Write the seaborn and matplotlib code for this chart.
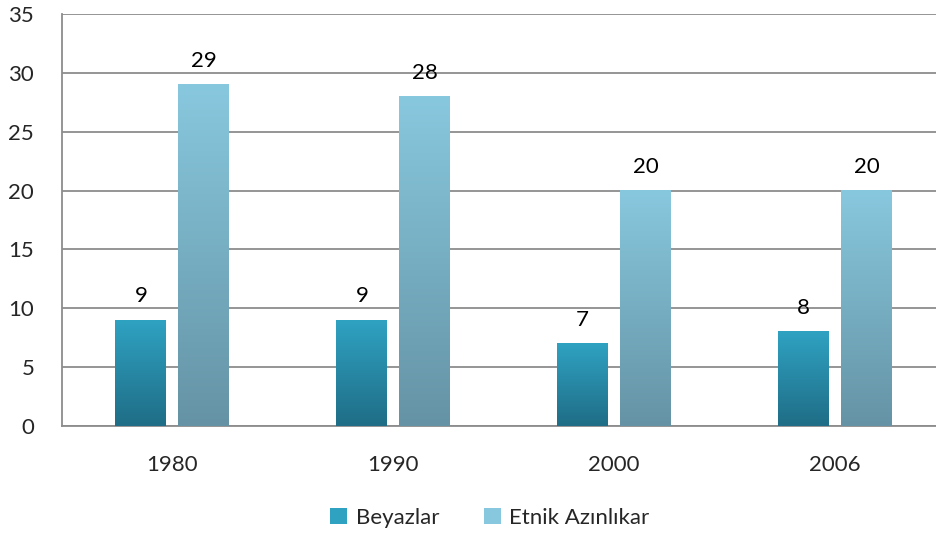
import numpy as np
import pandas as pd
import matplotlib
matplotlib.use("Agg")
import matplotlib.pyplot as plt
import seaborn as sns
from matplotlib.colors import LinearSegmentedColormap
from matplotlib.patches import Patch

years = ["1980", "1990", "2000", "2006"]
beyazlar = [9, 9, 7, 8]
etnik = [29, 28, 20, 20]
series_names = ["Beyazlar", "Etnik Azınlıkar"]

df = pd.DataFrame({
    "Yıl": years * 2,
    "Değer": beyazlar + etnik,
    "Grup": [series_names[0]] * 4 + [series_names[1]] * 4,
})

sns.set_style("white")
plt.rcParams["font.family"] = ["Lato", "DejaVu Sans"]

# gradient colours (top, bottom) for each series
grad = {
    series_names[0]: ("#2fa2c2", "#1f6d86"),
    series_names[1]: ("#88c8de", "#6593a5"),
}

fig = plt.figure(figsize=(9.36, 5.36), dpi=100)
ax = fig.add_axes([62 / 936, 110 / 536, 874 / 936, 412 / 536])

sns.barplot(data=df, x="Yıl", y="Değer", hue="Grup", hue_order=series_names,
            width=0.57, gap=0.19, palette=[grad[n][0] for n in series_names],
            legend=False, ax=ax, zorder=3)

# replace flat fill with vertical gradient
for cont, name in zip(ax.containers, series_names):
    cmap = LinearSegmentedColormap.from_list(name, [grad[name][1], grad[name][0]])
    for bar in cont:
        x, y = bar.get_x(), bar.get_y()
        w, h = bar.get_width(), bar.get_height()
        g = np.linspace(0, 1, 256).reshape(-1, 1)
        ax.imshow(g, extent=[x, x + w, y, y + h], origin="lower", aspect="auto",
                  cmap=cmap, zorder=3)
        bar.set_facecolor("none")
        bar.set_edgecolor("none")
    ax.bar_label(cont, fmt="%d", padding=10, fontsize=16, color="black")

ax.set_xlim(-0.5, 3.457)
ax.set_ylim(0, 35)
ax.set_yticks(range(0, 36, 5))
ax.yaxis.grid(True, color="#8c8c8c", linewidth=1.3)
ax.set_axisbelow(True)
for s in ["top", "right"]:
    ax.spines[s].set_visible(False)
ax.spines["left"].set_color("#8c8c8c")
ax.spines["left"].set_linewidth(1.3)
ax.spines["bottom"].set_color("#8c8c8c")
ax.spines["bottom"].set_linewidth(1.3)
ax.tick_params(axis="both", length=0, labelsize=16)
ax.tick_params(axis="y", pad=20)
ax.tick_params(axis="x", pad=21)
ax.set_xlabel("")
ax.set_ylabel("")

handles = [Patch(facecolor=grad[n][0], edgecolor="none") for n in series_names]
fig.legend(handles, series_names, loc="center", bbox_to_anchor=(490 / 936, 1 - 518 / 536),
           ncol=2, frameon=False, fontsize=16, handlelength=0.75, handleheight=0.75,
           handletextpad=0.4, columnspacing=2.0)

fig.savefig("out.png", dpi=100)
